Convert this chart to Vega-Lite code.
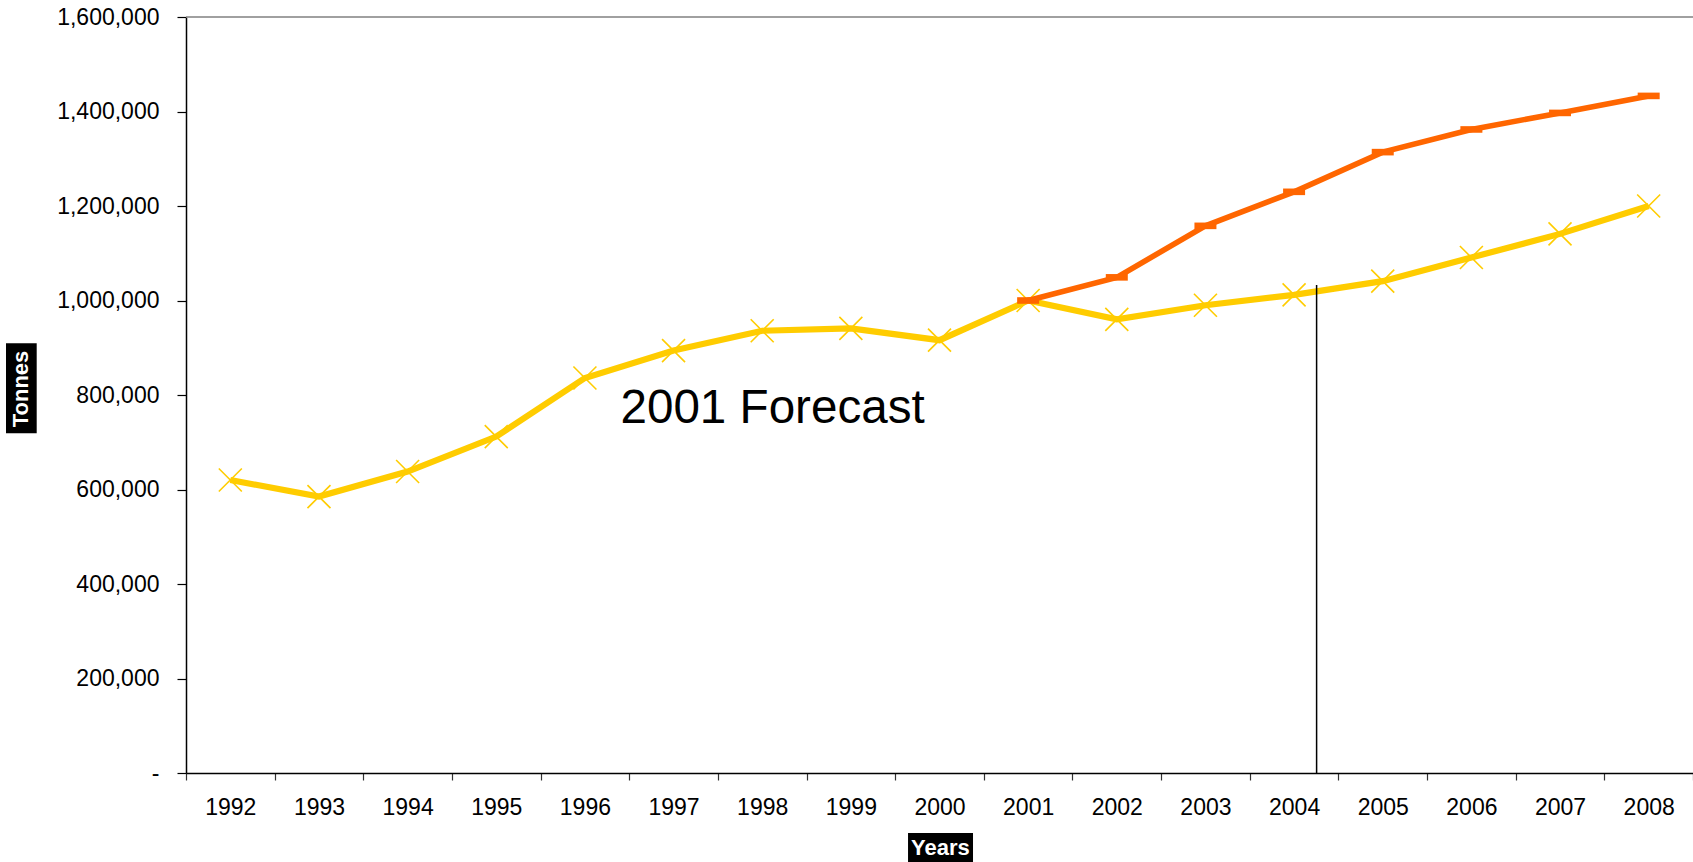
{
  "$schema": "https://vega.github.io/schema/vega-lite/v6.json",
  "width": 1507,
  "height": 756,
  "autosize": {"type": "none"},
  "padding": {"left": 186, "top": 17, "right": 0, "bottom": 89},
  "background": "white",
  "config": {
    "view": {"stroke": null},
    "font": "Liberation Sans",
    "text": {"font": "Liberation Sans"}
  },
  "datasets": {
    "tonnage": [
      {"year": 1992, "series": "2001 Forecast", "tonnes": 620000},
      {"year": 1993, "series": "2001 Forecast", "tonnes": 585000},
      {"year": 1994, "series": "2001 Forecast", "tonnes": 638000},
      {"year": 1995, "series": "2001 Forecast", "tonnes": 712000},
      {"year": 1996, "series": "2001 Forecast", "tonnes": 836000},
      {"year": 1997, "series": "2001 Forecast", "tonnes": 894000},
      {"year": 1998, "series": "2001 Forecast", "tonnes": 936000},
      {"year": 1999, "series": "2001 Forecast", "tonnes": 941000},
      {"year": 2000, "series": "2001 Forecast", "tonnes": 916000},
      {"year": 2001, "series": "2001 Forecast", "tonnes": 1000000},
      {"year": 2002, "series": "2001 Forecast", "tonnes": 960000},
      {"year": 2003, "series": "2001 Forecast", "tonnes": 990000},
      {"year": 2004, "series": "2001 Forecast", "tonnes": 1012000},
      {"year": 2005, "series": "2001 Forecast", "tonnes": 1041000},
      {"year": 2006, "series": "2001 Forecast", "tonnes": 1091000},
      {"year": 2007, "series": "2001 Forecast", "tonnes": 1141000},
      {"year": 2008, "series": "2001 Forecast", "tonnes": 1200000},
      {"year": 2001, "series": "Revised", "tonnes": 1000000},
      {"year": 2002, "series": "Revised", "tonnes": 1049000},
      {"year": 2003, "series": "Revised", "tonnes": 1158000},
      {"year": 2004, "series": "Revised", "tonnes": 1230000},
      {"year": 2005, "series": "Revised", "tonnes": 1314000},
      {"year": 2006, "series": "Revised", "tonnes": 1362000},
      {"year": 2007, "series": "Revised", "tonnes": 1397000},
      {"year": 2008, "series": "Revised", "tonnes": 1433000}
    ]
  },
  "layer": [
    {
      "data": {"values": [{}]},
      "mark": {"type": "rule", "color": "#808080", "strokeWidth": 1.5},
      "encoding": {"y": {"datum": 1600000}}
    },
    {
      "data": {"name": "tonnage"},
      "transform": [{"filter": "datum.series === '2001 Forecast'"}],
      "mark": {"type": "line", "color": "#FFCC00", "strokeWidth": 6.2},
      "encoding": {
        "x": {
          "field": "year",
          "type": "quantitative",
          "scale": {"domain": [1991.5, 2008.5], "nice": false, "zero": false},
          "axis": {
            "title": null,
            "grid": false,
            "values": [1991.5, 1992.5, 1993.5, 1994.5, 1995.5, 1996.5, 1997.5, 1998.5, 1999.5, 2000.5, 2001.5, 2002.5, 2003.5, 2004.5, 2005.5, 2006.5, 2007.5, 2008.5],
            "labelExpr": "datum.value > 2008 ? '' : format(datum.value + 0.5, 'd')",
            "labelOffset": 44.32,
            "labelFlush": false,
            "labelOverlap": false,
            "labelBound": false,
            "labelFont": "Liberation Sans",
            "labelFontSize": 23,
            "labelColor": "#000000",
            "labelPadding": 16,
            "domainColor": "#000000",
            "domainWidth": 1.5,
            "tickColor": "#333333",
            "tickWidth": 1.2,
            "tickSize": 7
          }
        },
        "y": {
          "field": "tonnes",
          "type": "quantitative",
          "scale": {"domain": [0, 1600000], "nice": false, "zero": true},
          "axis": {
            "title": null,
            "grid": false,
            "values": [0, 200000, 400000, 600000, 800000, 1000000, 1200000, 1400000, 1600000],
            "labelExpr": "datum.value === 0 ? '-\u00a0\u00a0\u00a0\u00a0' : format(datum.value, ',')",
            "labelFont": "Liberation Sans",
            "labelFontSize": 23,
            "labelColor": "#000000",
            "labelPadding": 18,
            "domainColor": "#000000",
            "domainWidth": 1.5,
            "tickColor": "#000000",
            "tickWidth": 1.2,
            "tickSize": 9
          }
        }
      }
    },
    {
      "data": {"name": "tonnage"},
      "transform": [{"filter": "datum.series === '2001 Forecast'"}],
      "mark": {
        "type": "point",
        "shape": "M-1,-1L1,1M-1,1L1,-1",
        "filled": false,
        "stroke": "#FFCC00",
        "strokeWidth": 1.6,
        "size": 529,
        "opacity": 1
      },
      "encoding": {
        "x": {"field": "year", "type": "quantitative"},
        "y": {"field": "tonnes", "type": "quantitative"}
      }
    },
    {
      "data": {"name": "tonnage"},
      "transform": [{"filter": "datum.series === 'Revised'"}],
      "mark": {"type": "line", "color": "#FF6600", "strokeWidth": 5.6},
      "encoding": {
        "x": {"field": "year", "type": "quantitative"},
        "y": {"field": "tonnes", "type": "quantitative"}
      }
    },
    {
      "data": {"name": "tonnage"},
      "transform": [{"filter": "datum.series === 'Revised'"}],
      "mark": {
        "type": "point",
        "shape": "M-1,-0.3H1V0.3H-1Z",
        "filled": true,
        "fill": "#FF6600",
        "strokeWidth": 0,
        "size": 484,
        "opacity": 1
      },
      "encoding": {
        "x": {"field": "year", "type": "quantitative"},
        "y": {"field": "tonnes", "type": "quantitative"}
      }
    },
    {
      "data": {"values": [{}]},
      "mark": {"type": "rule", "color": "#000000", "strokeWidth": 1.5},
      "encoding": {
        "x": {"datum": 2004.254},
        "y": {"datum": 0},
        "y2": {"datum": 1032800}
      }
    },
    {
      "data": {"values": [{"note": "2001 Forecast"}]},
      "mark": {"type": "text", "align": "left", "baseline": "alphabetic", "fontSize": 47.6, "color": "#000000"},
      "encoding": {
        "x": {"datum": 1996.401},
        "y": {"datum": 741400},
        "text": {"field": "note"}
      }
    },
    {
      "data": {"values": [{}]},
      "mark": {"type": "rect", "color": "#000000"},
      "encoding": {
        "x": {"datum": 1989.4695},
        "x2": {"datum": 1989.8158},
        "y": {"datum": 909400},
        "y2": {"datum": 719000}
      }
    },
    {
      "data": {"values": [{"label": "Tonnes"}]},
      "mark": {"type": "text", "angle": 270, "align": "center", "baseline": "middle", "fontSize": 22, "fontWeight": "bold", "color": "#FFFFFF"},
      "encoding": {
        "x": {"datum": 1989.636},
        "y": {"datum": 812700},
        "text": {"field": "label"}
      }
    },
    {
      "data": {"values": [{}]},
      "mark": {"type": "rect", "color": "#000000"},
      "encoding": {
        "x": {"datum": 1999.645},
        "x2": {"datum": 2000.378},
        "y": {"datum": -126980},
        "y2": {"datum": -188360}
      }
    },
    {
      "data": {"values": [{"label": "Years"}]},
      "mark": {"type": "text", "align": "center", "baseline": "middle", "fontSize": 22, "fontWeight": "bold", "color": "#FFFFFF"},
      "encoding": {
        "x": {"datum": 2000.01},
        "y": {"datum": -157700},
        "text": {"field": "label"}
      }
    }
  ]
}
